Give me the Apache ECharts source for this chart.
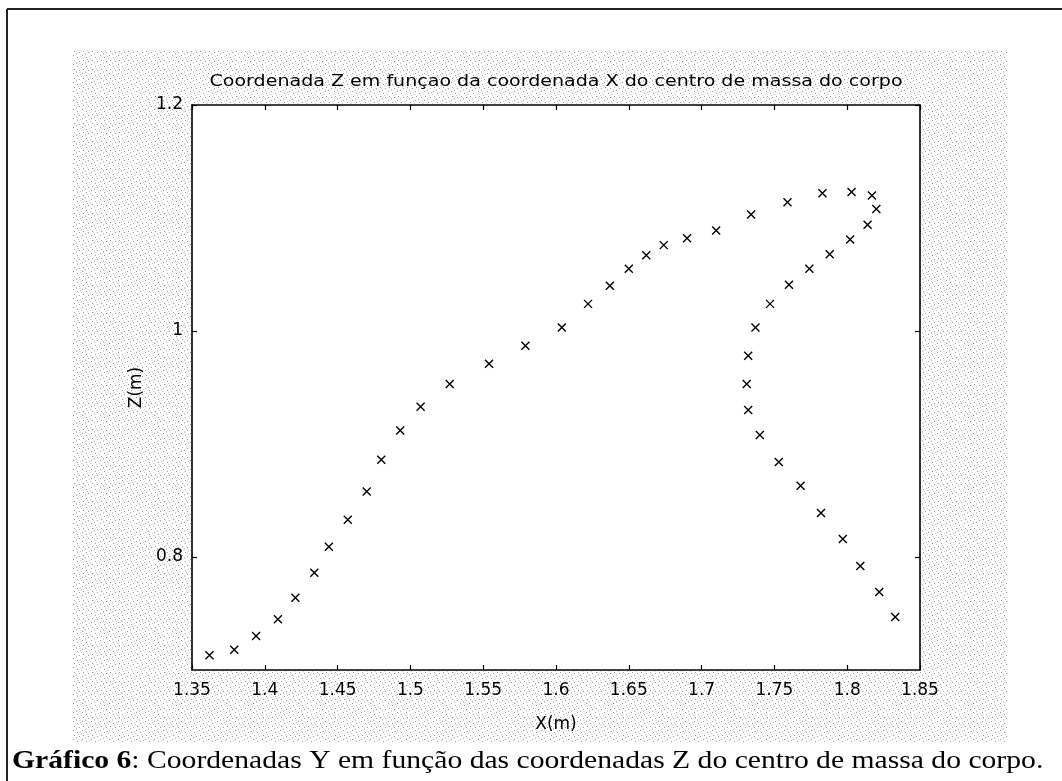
<!DOCTYPE html>
<html>
<head>
<meta charset="utf-8">
<script src="https://cdn.jsdelivr.net/npm/echarts@6/dist/echarts.min.js"></script>
<style>
html,body{margin:0;padding:0;background:#fff;}
#chart{width:1062px;height:781px;}
</style>
</head>
<body>
<div id="chart"></div>
<script>
// ---- data ----
const xValues = [
  1.362, 1.379, 1.394, 1.409, 1.421, 1.434, 1.444, 1.457, 1.470, 1.480,
  1.493, 1.507, 1.527, 1.554, 1.579, 1.604, 1.622, 1.637, 1.650, 1.662,
  1.674, 1.690, 1.710, 1.734, 1.759, 1.783, 1.803, 1.817, 1.820, 1.814,
  1.802, 1.788, 1.774, 1.760, 1.747, 1.737, 1.732, 1.731, 1.732, 1.740,
  1.753, 1.768, 1.782, 1.797, 1.809, 1.822, 1.833
];
const zValues = [
  0.713, 0.718, 0.730, 0.745, 0.764, 0.786, 0.809, 0.833, 0.858, 0.886,
  0.912, 0.933, 0.953, 0.971, 0.987, 1.003, 1.024, 1.040, 1.055, 1.067,
  1.076, 1.082, 1.089, 1.103, 1.114, 1.122, 1.123, 1.120, 1.108, 1.094,
  1.081, 1.068, 1.055, 1.041, 1.024, 1.003, 0.978, 0.953, 0.930, 0.908,
  0.884, 0.863, 0.839, 0.816, 0.792, 0.769, 0.747
];
const xTickValues = [1.35, 1.4, 1.45, 1.5, 1.55, 1.6, 1.65, 1.7, 1.75, 1.8, 1.85];
const yTickValues = [0.8, 1, 1.2];
const chartTitle = 'Coordenada Z em funçao da coordenada X do centro de massa do corpo';
const xName = 'X(m)';
const yName = 'Z(m)';
const captionBold = 'Gráfico 6';
const captionRest = ': Coordenadas Y em função das coordenadas Z do centro de massa do corpo.';

// ---- stipple pattern for the figure background ----
const pat = document.createElement('canvas');
pat.width = 9; pat.height = 9;
(function(){
  const c = pat.getContext('2d');
  c.fillStyle = '#ffffff'; c.fillRect(0,0,9,9);
  c.fillStyle = '#9a9a9a';
  [[1,1],[5,3],[2,6],[7,7]].forEach(p => c.fillRect(p[0],p[1],1,1));
  c.fillStyle = '#d0d0d0';
  [[4,0],[0,4],[8,2],[4,8],[6,5]].forEach(p => c.fillRect(p[0],p[1],1,1));
})();

const points = xValues.map((x, i) => [x, zValues[i]]);
const sans = 'DejaVu Sans';
const fmt = v => String(parseFloat(Number(v).toFixed(2)));

const chart = echarts.init(document.getElementById('chart'), null, {renderer: 'canvas'});
const axisCommon = {
  type: 'value',
  axisLine: {show: true, onZero: false, lineStyle: {color: '#000', width: 1.6}},
  splitLine: {show: false}
};
chart.setOption({
  animation: false,
  backgroundColor: '#fff',
  grid: {left: 192, top: 105, width: 728, height: 565, show: true, backgroundColor: '#fff', borderWidth: 0},
  xAxis: [
    Object.assign({}, axisCommon, {
      position: 'bottom', min: 1.35, max: 1.85,
      name: xName, nameLocation: 'middle', nameGap: 46,
      nameTextStyle: {color: '#000', fontFamily: sans, fontSize: 17},
      axisTick: {show: true, inside: true, length: 5, customValues: xTickValues, lineStyle: {color: '#000', width: 1.2}},
      axisLabel: {show: true, customValues: xTickValues, margin: 12, color: '#000', fontFamily: sans, fontSize: 17, formatter: fmt}
    }),
    Object.assign({}, axisCommon, {
      position: 'top', min: 1.35, max: 1.85,
      axisTick: {show: true, inside: true, length: 5, customValues: xTickValues, lineStyle: {color: '#000', width: 1.2}},
      axisLabel: {show: false}
    })
  ],
  yAxis: [
    Object.assign({}, axisCommon, {
      position: 'left', min: 0.7, max: 1.2,
      name: yName, nameLocation: 'middle', nameGap: 44,
      nameTextStyle: {color: '#000', fontFamily: sans, fontSize: 17},
      axisTick: {show: true, inside: true, length: 5, customValues: yTickValues, lineStyle: {color: '#000', width: 1.2}},
      axisLabel: {show: true, customValues: yTickValues, margin: 9, color: '#000', fontFamily: sans, fontSize: 17, formatter: fmt}
    }),
    Object.assign({}, axisCommon, {
      position: 'right', min: 0.7, max: 1.2,
      axisTick: {show: true, inside: true, length: 5, customValues: yTickValues, lineStyle: {color: '#000', width: 1.2}},
      axisLabel: {show: false}
    })
  ],
  series: [{
    type: 'scatter',
    xAxisIndex: 0, yAxisIndex: 0,
    data: points,
    symbol: 'path://M0,0L10,10M10,0L0,10',
    symbolSize: 8,
    itemStyle: {color: 'rgba(0,0,0,0)', borderColor: '#000', borderWidth: 1.4, opacity: 1},
    z: 5
  }],
  graphic: [
    {type: 'rect', z: -10, silent: true, shape: {x: 73, y: 50, width: 934, height: 692},
     style: {fill: {image: pat, repeat: 'repeat'}}},
    {type: 'line', z: 10, silent: true, shape: {x1: 7, y1: 9, x2: 7, y2: 781}, style: {stroke: '#222', lineWidth: 2}},
    {type: 'line', z: 10, silent: true, shape: {x1: 7, y1: 9, x2: 1062, y2: 9}, style: {stroke: '#222', lineWidth: 2}},
    {type: 'text', z: 10, silent: true, x: 556, y: 82, scaleX: 1.27, scaleY: 1,
     style: {text: chartTitle, fill: '#000', font: '15px "DejaVu Sans"', align: 'center', verticalAlign: 'middle'}},
    {type: 'text', z: 10, silent: true, x: 12, y: 761, scaleX: 1.235, scaleY: 1.05,
     style: {
       text: '{b|' + captionBold + '}' + '{r|' + captionRest + '}',
       align: 'left', verticalAlign: 'middle',
       rich: {
         b: {fontFamily: 'Liberation Serif', fontSize: 24, fontWeight: 'bold', fill: '#000', color: '#000'},
         r: {fontFamily: 'Liberation Serif', fontSize: 24, fontWeight: 'normal', fill: '#000', color: '#000'}
       }
     }}
  ]
});
</script>
</body>
</html>
